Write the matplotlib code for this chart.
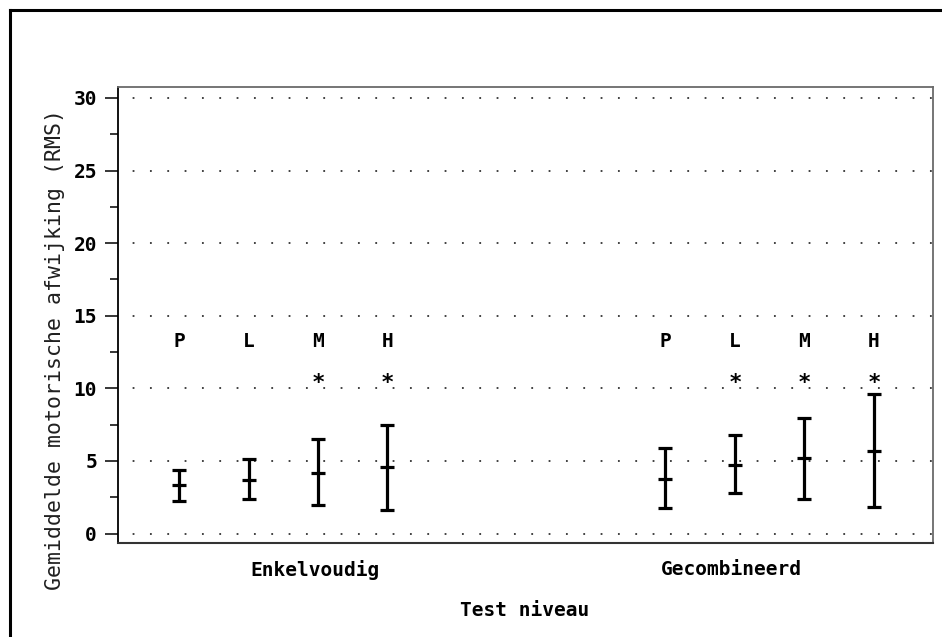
import matplotlib
matplotlib.use("Agg")
import matplotlib.pyplot as plt
from matplotlib.lines import Line2D
from matplotlib.ticker import MultipleLocator
import numpy as np

# Test conditions and levels
groups = ["Enkelvoudig", "Gecombineerd"]
levels = ["P", "L", "M", "H"]

# Mean RMS deviation with lower / upper bounds per level
enk_mean = [3.36, 3.68, 4.20, 4.55]
enk_low = [2.27, 2.39, 1.98, 1.64]
enk_high = [4.36, 5.11, 6.48, 7.50]

gec_mean = [3.77, 4.73, 5.18, 5.68]
gec_low = [1.75, 2.82, 2.39, 1.86]
gec_high = [5.91, 6.77, 7.95, 9.59]

# Significance markers per level
enk_sig = [False, False, True, True]
gec_sig = [False, True, True, True]

W, H, DPI = 942, 637, 100
fig = plt.figure(figsize=(W / DPI, H / DPI), dpi=DPI)
ax = fig.add_axes([118 / W, 1 - 543 / H, (933 - 118) / W, (543 - 87) / H])

mono = "DejaVu Sans Mono"
ink = "#000000"

group_start = [0, 7]
label_pos = [1.96, 7.95]
letter_y = 12.85
star_y = 10.35

series = [(enk_mean, enk_low, enk_high, enk_sig),
          (gec_mean, gec_low, gec_high, gec_sig)]

for start, (mean, low, high, sig) in zip(group_start, series):
    x = start + np.arange(len(levels))
    mean = np.array(mean)
    yerr = [mean - np.array(low), np.array(high) - mean]
    ax.errorbar(x, mean, yerr=yerr, fmt="none", ecolor=ink, elinewidth=2.3,
                capsize=5, capthick=2.3, zorder=3)
    ax.plot(x, mean, linestyle="none", marker="_", markersize=10,
            markeredgewidth=2.3, color=ink, zorder=3)
    for xi, lv, s in zip(x, levels, sig):
        ax.text(xi, letter_y, lv, ha="center", va="baseline", family=mono,
                fontweight="bold", fontsize=14, color=ink)
        if s:
            ax.text(xi, star_y, "*", ha="center", va="center", family=mono,
                    fontweight="bold", fontsize=16, color=ink)

ax.set_xlim(-0.878, 10.85)
ax.set_ylim(-0.65, 30.75)

ax.yaxis.set_major_locator(MultipleLocator(5))
ax.yaxis.set_minor_locator(MultipleLocator(2.5))
ax.set_xticks(label_pos)
ax.set_xticklabels(groups, family=mono, fontweight="bold", fontsize=14)
for lab in ax.get_yticklabels():
    lab.set_family(mono)
    lab.set_fontweight("bold")
    lab.set_fontsize(14)

ax.tick_params(axis="y", which="major", direction="out", length=9.4,
               width=1.1, pad=5.8, colors=ink)
ax.tick_params(axis="y", which="minor", direction="out", length=5.8,
               width=1.1, colors=ink)
ax.tick_params(axis="x", length=0, pad=12)

ax.yaxis.grid(True, which="major", color="#333333", linewidth=1.3,
              linestyle=(1.5, (1, 8.6)))
ax.set_axisbelow(True)

for side in ("top", "right"):
    ax.spines[side].set_color("#6a6a6a")
    ax.spines[side].set_linewidth(1.3)
ax.spines["bottom"].set_color("#333333")
ax.spines["bottom"].set_linewidth(1.5)
ax.spines["left"].set_color(ink)
ax.spines["left"].set_linewidth(1.3)

fig.text(525 / W, 1 - 616 / H, "Test niveau", ha="center", va="baseline",
         family=mono, fontweight="bold", fontsize=14, color=ink)
fig.text(55 / W, 1 - 350 / H, "Gemiddelde motorische afwijking (RMS)",
         rotation=90, ha="center", va="center", family=mono,
         fontsize=15.5, color="#202020")

# Outer frame (top and left edges)
fig.add_artist(Line2D([10 / W, 10 / W], [1 - 10 / H, 0], color=ink,
                      linewidth=2.2, transform=fig.transFigure))
fig.add_artist(Line2D([10 / W, 1], [1 - 10 / H, 1 - 10 / H], color=ink,
                      linewidth=2.2, transform=fig.transFigure))

fig.savefig("out.png", dpi=DPI)
